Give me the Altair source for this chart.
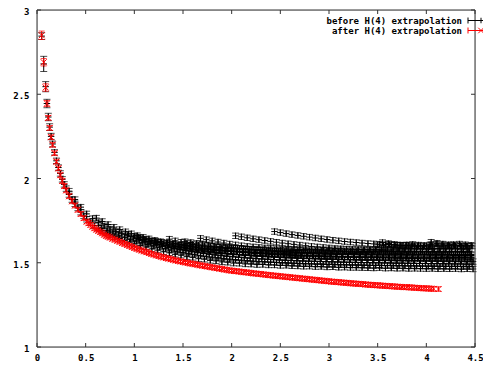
import altair as alt
import pandas as pd

# ---------------- data ----------------
x_ticks = [0, 0.5, 1, 1.5, 2, 2.5, 3, 3.5, 4, 4.5]
y_ticks = [1, 1.5, 2, 2.5, 3]

legend_labels = ["before H(4) extrapolation", "after H(4) extrapolation"]

# red: after H(4) extrapolation
red_x = [0.048, 0.069, 0.089, 0.102, 0.116, 0.13, 0.145, 0.16, 0.18, 0.2, 0.22, 0.24, 0.26, 0.28, 0.3,
         0.33, 0.36, 0.39, 0.42, 0.45, 0.48, 0.51, 0.55, 0.59, 0.63, 0.67, 0.71, 0.75, 0.8, 0.85, 0.9, 0.95,
         1.0, 1.05, 1.1, 1.15, 1.2, 1.25, 1.3, 1.35, 1.4, 1.45, 1.5, 1.55, 1.6, 1.65, 1.7, 1.75, 1.8, 1.85,
         1.9, 1.95, 2.0, 2.05, 2.1, 2.15, 2.2, 2.25, 2.3, 2.35, 2.4, 2.45, 2.5, 2.55, 2.6, 2.65, 2.7, 2.75,
         2.8, 2.85, 2.9, 2.95, 3.0, 3.05, 3.1, 3.15, 3.2, 3.25, 3.3, 3.35, 3.4, 3.45, 3.5, 3.55, 3.6, 3.65,
         3.7, 3.75, 3.8, 3.85, 3.9, 3.95, 4.0, 4.05]
red_y = [2.85, 2.69, 2.54, 2.445, 2.36, 2.30, 2.245, 2.20, 2.15, 2.10, 2.06, 2.02, 1.985, 1.955, 1.93,
         1.895, 1.865, 1.84, 1.815, 1.79, 1.765, 1.745, 1.725, 1.705, 1.69, 1.675, 1.66, 1.65, 1.637, 1.625, 1.612, 1.60,
         1.588, 1.578, 1.568, 1.558, 1.549, 1.540, 1.532, 1.525, 1.518, 1.511, 1.505, 1.499, 1.494, 1.488, 1.483, 1.478, 1.473, 1.468,
         1.463, 1.458, 1.453, 1.450, 1.446, 1.443, 1.439, 1.436, 1.433, 1.429, 1.426, 1.423, 1.420, 1.417, 1.414, 1.411, 1.408, 1.405,
         1.402, 1.399, 1.396, 1.393, 1.390, 1.387, 1.385, 1.382, 1.380, 1.377, 1.375, 1.373, 1.370, 1.368, 1.366, 1.364, 1.362, 1.360,
         1.358, 1.356, 1.355, 1.353, 1.351, 1.349, 1.348, 1.346]
red2_x = [0.53, 0.57, 0.61, 0.65, 0.69, 0.73, 0.775, 0.825, 0.875, 0.925,
          0.975, 1.025, 1.075, 1.125, 1.175, 1.225, 1.275, 1.325, 1.375, 1.425, 1.475, 1.525, 1.575, 1.625,
          1.675, 1.725, 1.775, 1.825, 1.875, 1.925, 1.975, 2.025, 2.075, 2.125, 2.175, 2.225, 2.275, 2.325,
          2.375, 2.425, 2.475, 2.525, 2.575, 2.625, 2.675, 2.725, 2.775, 2.825, 2.875, 2.925, 2.975, 3.025,
          3.075, 3.125, 3.175, 3.225, 3.275, 3.325, 3.375, 3.425, 3.475, 3.525, 3.575, 3.625, 3.675, 3.725,
          3.775, 3.825, 3.875, 3.925, 3.975, 4.025, 4.075, 4.125]
red2_y = [1.735, 1.715, 1.697, 1.682, 1.667, 1.655, 1.643, 1.631, 1.618, 1.606,
          1.594, 1.583, 1.573, 1.563, 1.553, 1.544, 1.536, 1.528, 1.521, 1.514, 1.508, 1.502, 1.496, 1.491,
          1.485, 1.480, 1.475, 1.470, 1.465, 1.460, 1.455, 1.451, 1.448, 1.444, 1.441, 1.437, 1.434, 1.431,
          1.427, 1.424, 1.421, 1.418, 1.415, 1.412, 1.409, 1.406, 1.403, 1.400, 1.397, 1.394, 1.391, 1.388,
          1.386, 1.383, 1.381, 1.378, 1.376, 1.374, 1.371, 1.369, 1.367, 1.365, 1.363, 1.361, 1.359, 1.357,
          1.355, 1.354, 1.352, 1.350, 1.348, 1.347, 1.345, 1.344]
red_err_first = [0.025, 0.022, 0.022, 0.018]
red_err = 0.014

# black: before H(4) extrapolation (several branches)
blk0_x = [0.048, 0.069, 0.089, 0.102, 0.116, 0.13, 0.145, 0.16, 0.18, 0.2, 0.22, 0.24, 0.26, 0.28, 0.3,
          0.33, 0.36, 0.39, 0.42, 0.45, 0.48, 0.51, 0.55, 0.59, 0.63, 0.67, 0.71, 0.75, 0.8, 0.85, 0.9, 0.95, 1.0,
          1.06, 1.12, 1.18, 1.24, 1.3, 1.36, 1.42, 1.48, 1.54, 1.6, 1.66, 1.72, 1.78, 1.84, 1.9, 1.96, 2.02, 2.08,
          2.14, 2.2, 2.26, 2.32, 2.38, 2.44, 2.5, 2.56, 2.62, 2.68, 2.74, 2.8, 2.86, 2.92, 2.98, 3.04, 3.1, 3.16,
          3.22, 3.28, 3.34, 3.4, 3.46, 3.52, 3.58, 3.64, 3.7, 3.76, 3.82, 3.88, 3.94, 4.0, 4.06, 4.12, 4.18, 4.24,
          4.3, 4.36, 4.42, 4.48]
blk0_y = [2.845, 2.68, 2.545, 2.445, 2.365, 2.305, 2.25, 2.205, 2.155, 2.105, 2.065, 2.03, 1.995, 1.965, 1.94,
          1.905, 1.875, 1.85, 1.825, 1.80, 1.778, 1.758, 1.738, 1.72, 1.705, 1.69, 1.677, 1.667, 1.655, 1.644, 1.633, 1.622, 1.612,
          1.601, 1.594, 1.582, 1.575, 1.565, 1.559, 1.550, 1.545, 1.536, 1.532, 1.524, 1.521, 1.514, 1.511, 1.505, 1.503, 1.498, 1.497,
          1.493, 1.492, 1.489, 1.490, 1.487, 1.487, 1.484, 1.485, 1.482, 1.481, 1.479, 1.480, 1.477, 1.478, 1.475, 1.476, 1.473, 1.474,
          1.472, 1.472, 1.471, 1.470, 1.469, 1.471, 1.468, 1.469, 1.467, 1.468, 1.466, 1.467, 1.466, 1.465, 1.466, 1.464, 1.465, 1.464,
          1.465, 1.463, 1.464, 1.463]
blk0_err_first = [0.02, 0.045, 0.03, 0.025, 0.022, 0.02, 0.018, 0.017]

blk1_x = [0.33, 0.39, 0.45, 0.51, 0.57, 0.63, 0.69, 0.75, 0.81, 0.87, 0.93, 0.99, 1.05, 1.11, 1.17, 1.23, 1.29,
          1.35, 1.41, 1.47, 1.53, 1.59, 1.65, 1.71, 1.77, 1.83, 1.89, 1.95, 2.01, 2.07, 2.13, 2.19, 2.25, 2.31,
          2.37, 2.43, 2.49, 2.55, 2.61, 2.67, 2.73, 2.79, 2.85, 2.91, 2.97, 3.03, 3.09, 3.15, 3.21, 3.27, 3.33,
          3.39, 3.45, 3.51, 3.57, 3.63, 3.69, 3.75, 3.81, 3.87, 3.93, 3.99, 4.05, 4.11, 4.17, 4.23, 4.29, 4.35,
          4.41, 4.47]
blk1_y = [1.925, 1.875, 1.830, 1.790, 1.762, 1.738, 1.718, 1.700, 1.686, 1.673,
          1.661, 1.648, 1.637, 1.627, 1.618, 1.609, 1.600, 1.592, 1.585, 1.578,
          1.572, 1.566, 1.560, 1.555, 1.550, 1.546, 1.542, 1.538, 1.535, 1.532,
          1.529, 1.527, 1.524, 1.522, 1.520, 1.518, 1.516, 1.514, 1.513, 1.511,
          1.510, 1.509, 1.508, 1.507, 1.506, 1.505, 1.504, 1.503, 1.503, 1.502,
          1.501, 1.501, 1.500, 1.500, 1.499, 1.499, 1.498, 1.498, 1.497, 1.497,
          1.496, 1.496, 1.495, 1.495, 1.494, 1.494, 1.493, 1.493, 1.492, 1.492]

blk2_x = [0.61, 0.67, 0.73, 0.79, 0.85, 0.91, 0.97, 1.03, 1.09, 1.15, 1.21, 1.27, 1.33, 1.39, 1.45, 1.51,
          1.57, 1.63, 1.69, 1.75, 1.81, 1.87, 1.93, 1.99, 2.05, 2.11, 2.17, 2.23, 2.29, 2.35, 2.41, 2.47, 2.53,
          2.59, 2.65, 2.71, 2.77, 2.83, 2.89, 2.95, 3.01, 3.07, 3.13, 3.19, 3.25, 3.31, 3.37, 3.43, 3.49, 3.55,
          3.61, 3.67, 3.73, 3.79, 3.85, 3.91, 3.97, 4.03, 4.09, 4.15, 4.21, 4.27, 4.33, 4.39, 4.45]
blk2_y = [1.765, 1.745, 1.727, 1.711, 1.697, 1.684, 1.672, 1.661, 1.651, 1.642, 1.633, 1.625, 1.618, 1.611,
          1.605, 1.599, 1.594, 1.589, 1.584, 1.580, 1.576, 1.572, 1.569, 1.566, 1.563, 1.560, 1.558, 1.555,
          1.553, 1.551, 1.549, 1.547, 1.546, 1.544, 1.543, 1.541, 1.540, 1.539, 1.538, 1.537, 1.536, 1.535,
          1.534, 1.533, 1.532, 1.531, 1.530, 1.530, 1.529, 1.528, 1.528, 1.527, 1.526, 1.526, 1.525, 1.525,
          1.524, 1.524, 1.523, 1.523, 1.522, 1.522, 1.521, 1.521, 1.520]

blk3_x = [1.04, 1.10, 1.16, 1.22, 1.28, 1.34, 1.40, 1.46, 1.52, 1.58, 1.64, 1.70, 1.76, 1.82, 1.88, 1.94,
          2.00, 2.06, 2.12, 2.18, 2.24, 2.30, 2.36, 2.42, 2.48, 2.54, 2.60, 2.66, 2.72, 2.78, 2.84, 2.90, 2.96,
          3.02, 3.08, 3.14, 3.20, 3.26, 3.32, 3.38, 3.44, 3.50, 3.56, 3.62, 3.68, 3.74, 3.80, 3.86, 3.92, 3.98,
          4.04, 4.10, 4.16, 4.22, 4.28, 4.34, 4.40, 4.46]
blk3_y = [1.652, 1.640, 1.630, 1.621, 1.613, 1.606, 1.600, 1.595, 1.590, 1.586, 1.582, 1.579, 1.576, 1.573,
          1.571, 1.569, 1.567, 1.565, 1.563, 1.562, 1.560, 1.559, 1.558, 1.557, 1.556, 1.555, 1.554, 1.553,
          1.553, 1.552, 1.551, 1.551, 1.550, 1.550, 1.549, 1.549, 1.548, 1.548, 1.548, 1.547, 1.547, 1.547,
          1.546, 1.546, 1.546, 1.546, 1.545, 1.545, 1.545, 1.545, 1.544, 1.544, 1.544, 1.544, 1.543, 1.543,
          1.543, 1.543]

blk4_x = [1.36, 1.42, 1.48, 1.54, 1.60, 1.66, 1.72, 1.78, 1.84, 1.90, 1.96, 2.02, 2.08, 2.14, 2.20, 2.26,
          2.32, 2.38, 2.44, 2.50, 2.56, 2.62, 2.68, 2.74, 2.80, 2.86, 2.92, 2.98, 3.04, 3.10, 3.16, 3.22, 3.28,
          3.34, 3.40, 3.46, 3.52, 3.58, 3.64, 3.70, 3.76, 3.82, 3.88, 3.94, 4.00, 4.06, 4.12, 4.18, 4.24, 4.30,
          4.36, 4.42]
blk4_y = [1.640, 1.630, 1.622, 1.615, 1.609, 1.604, 1.600, 1.596, 1.593, 1.590, 1.588, 1.586, 1.584, 1.582,
          1.581, 1.579, 1.578, 1.577, 1.576, 1.575, 1.574, 1.573, 1.573, 1.572, 1.571, 1.571, 1.570, 1.570,
          1.569, 1.569, 1.568, 1.568, 1.568, 1.567, 1.567, 1.567, 1.566, 1.566, 1.566, 1.566, 1.565, 1.565,
          1.565, 1.565, 1.565, 1.564, 1.564, 1.564, 1.564, 1.564, 1.563, 1.563]

blk5_x = [1.68, 1.74, 1.80, 1.86, 1.92, 1.98, 2.04, 2.10, 2.16, 2.22, 2.28, 2.34, 2.40, 2.46, 2.52, 2.58,
          2.64, 2.70, 2.76, 2.82, 2.88, 2.94, 3.00, 3.06, 3.12, 3.18, 3.24, 3.30, 3.36, 3.42, 3.48, 3.54, 3.60,
          3.66, 3.72, 3.78, 3.84, 3.90, 3.96, 4.02, 4.08, 4.14, 4.20, 4.26, 4.32, 4.38, 4.44]
blk5_y = [1.645, 1.637, 1.630, 1.623, 1.617, 1.611, 1.606, 1.601, 1.597, 1.594, 1.591, 1.588, 1.586, 1.584,
          1.582, 1.581, 1.580, 1.579, 1.578, 1.578, 1.577, 1.577, 1.577, 1.577, 1.577, 1.577, 1.577, 1.578,
          1.578, 1.578, 1.579, 1.579, 1.580, 1.580, 1.581, 1.581, 1.582, 1.582, 1.583, 1.583, 1.584, 1.584,
          1.585, 1.585, 1.586, 1.586, 1.587]

blk6_x = [2.04, 2.10, 2.16, 2.22, 2.28, 2.34, 2.40, 2.46, 2.52, 2.58, 2.64, 2.70, 2.76, 2.82, 2.88, 2.94,
          3.00, 3.06, 3.12, 3.18, 3.24, 3.30, 3.36, 3.42, 3.48, 3.54, 3.60, 3.66, 3.72, 3.78, 3.84, 3.90, 3.96,
          4.02, 4.08, 4.14, 4.20, 4.26, 4.32, 4.38, 4.44]
blk6_y = [1.660, 1.654, 1.648, 1.642, 1.637, 1.632, 1.627, 1.622, 1.617, 1.613, 1.609, 1.605, 1.601, 1.597,
          1.594, 1.591, 1.588, 1.585, 1.583, 1.581, 1.579, 1.577, 1.576, 1.575, 1.574, 1.573, 1.572, 1.571,
          1.571, 1.570, 1.570, 1.569, 1.569, 1.568, 1.568, 1.568, 1.567, 1.567, 1.567, 1.566, 1.566]

blk7_x = [2.44, 2.50, 2.56, 2.62, 2.68, 2.74, 2.80, 2.86, 2.92, 2.98, 3.04, 3.10, 3.16, 3.22, 3.28, 3.34,
          3.40, 3.46, 3.52, 3.58, 3.64, 3.70, 3.76, 3.82, 3.88, 3.94, 4.00, 4.06, 4.12, 4.18, 4.24, 4.30, 4.36,
          4.42]
blk7_y = [1.685, 1.679, 1.673, 1.667, 1.662, 1.657, 1.652, 1.647, 1.642, 1.638, 1.634, 1.630, 1.626, 1.623,
          1.620, 1.617, 1.614, 1.612, 1.610, 1.608, 1.606, 1.605, 1.604, 1.603, 1.602, 1.601, 1.601, 1.600,
          1.600, 1.599, 1.599, 1.599, 1.598, 1.598]

blk8_x = [3.55, 3.61, 3.67, 3.73, 3.79, 3.85, 3.91, 3.97, 4.03, 4.05, 4.11, 4.17, 4.23, 4.29, 4.35, 4.41, 4.47]
blk8_y = [1.620, 1.614, 1.609, 1.605, 1.602, 1.599, 1.597, 1.595, 1.594, 1.622, 1.616, 1.611, 1.607, 1.604,
          1.602, 1.600, 1.599]

blk9_x = [0.66, 0.72, 0.78, 0.84, 0.90, 0.96, 1.02, 1.08, 1.14, 1.20, 1.26, 1.32, 1.38, 1.44, 1.50, 1.56,
          1.62, 1.68, 1.74, 1.80, 1.86, 1.92, 1.98, 2.04, 2.10, 2.16, 2.22, 2.28, 2.34, 2.40, 2.46, 2.52, 2.58,
          2.64, 2.70, 2.76, 2.82, 2.88, 2.94, 3.00, 3.06, 3.12, 3.18, 3.24, 3.30, 3.36, 3.42, 3.48, 3.54, 3.60,
          3.66, 3.72, 3.78, 3.84, 3.90, 3.96, 4.02, 4.08, 4.14, 4.20, 4.26, 4.32, 4.38, 4.44]
blk9_y = [1.706, 1.690, 1.677, 1.664, 1.651, 1.640, 1.628, 1.618, 1.609, 1.600,
          1.592, 1.584, 1.576, 1.569, 1.562, 1.556, 1.550, 1.544, 1.539, 1.534,
          1.530, 1.526, 1.522, 1.519, 1.516, 1.513, 1.510, 1.508, 1.506, 1.504,
          1.502, 1.500, 1.498, 1.497, 1.495, 1.494, 1.493, 1.492, 1.491, 1.490,
          1.489, 1.488, 1.487, 1.486, 1.486, 1.485, 1.484, 1.484, 1.483, 1.483,
          1.482, 1.482, 1.481, 1.481, 1.480, 1.480, 1.479, 1.479, 1.479, 1.478,
          1.478, 1.478, 1.477, 1.477]

blk10_x = [0.94, 1.00, 1.06, 1.12, 1.18, 1.24, 1.30, 1.36, 1.42, 1.48, 1.54, 1.60, 1.66, 1.72, 1.78, 1.84,
           1.90, 1.96, 2.02, 2.08, 2.14, 2.20, 2.26, 2.32, 2.38, 2.44, 2.50, 2.56, 2.62, 2.68, 2.74, 2.80, 2.86,
           2.92, 2.98, 3.04, 3.10, 3.16, 3.22, 3.28, 3.34, 3.40, 3.46, 3.52, 3.58, 3.64, 3.70, 3.76, 3.82, 3.88,
           3.94, 4.00, 4.06, 4.12, 4.18, 4.24, 4.30, 4.36, 4.42, 4.48]
blk10_y = [1.670, 1.658, 1.647, 1.637, 1.628, 1.620, 1.612, 1.605, 1.598, 1.592,
           1.586, 1.580, 1.575, 1.570, 1.566, 1.562, 1.558, 1.555, 1.552, 1.549,
           1.546, 1.544, 1.541, 1.539, 1.537, 1.535, 1.533, 1.532, 1.530, 1.529,
           1.527, 1.526, 1.525, 1.524, 1.523, 1.522, 1.521, 1.520, 1.519, 1.518,
           1.517, 1.517, 1.516, 1.515, 1.515, 1.514, 1.513, 1.513, 1.512, 1.512,
           1.511, 1.511, 1.510, 1.510, 1.509, 1.509, 1.508, 1.508, 1.507, 1.507]

blk11_x = [1.22, 1.28, 1.34, 1.40, 1.46, 1.52, 1.58, 1.64, 1.70, 1.76, 1.82, 1.88, 1.94, 2.00, 2.06, 2.12,
           2.18, 2.24, 2.30, 2.36, 2.42, 2.48, 2.54, 2.60, 2.66, 2.72, 2.78, 2.84, 2.90, 2.96, 3.02, 3.08, 3.14,
           3.20, 3.26, 3.32, 3.38, 3.44, 3.50, 3.56, 3.62, 3.68, 3.74, 3.80, 3.86, 3.92, 3.98, 4.04, 4.10, 4.16,
           4.22, 4.28, 4.34, 4.40, 4.46]
blk11_y = [1.628, 1.622, 1.617, 1.612, 1.607, 1.602, 1.597, 1.592, 1.587, 1.583,
           1.579, 1.575, 1.572, 1.569, 1.566, 1.563, 1.561, 1.558, 1.556, 1.554,
           1.552, 1.550, 1.548, 1.547, 1.545, 1.544, 1.542, 1.541, 1.540, 1.539,
           1.538, 1.537, 1.536, 1.536, 1.535, 1.535, 1.534, 1.534, 1.534, 1.533,
           1.533, 1.533, 1.533, 1.532, 1.532, 1.532, 1.532, 1.532, 1.531, 1.531,
           1.531, 1.531, 1.531, 1.531, 1.530]

blk12_x = [1.52, 1.58, 1.64, 1.70, 1.76, 1.82, 1.88, 1.94, 2.00, 2.06, 2.12, 2.18, 2.24, 2.30, 2.36, 2.42,
           2.48, 2.54, 2.60, 2.66, 2.72, 2.78, 2.84, 2.90, 2.96, 3.02, 3.08, 3.14, 3.20, 3.26, 3.32, 3.38, 3.44,
           3.50, 3.56, 3.62, 3.68, 3.74, 3.80, 3.86, 3.92, 3.98, 4.04, 4.10, 4.16, 4.22, 4.28, 4.34, 4.40, 4.46]
blk12_y = [1.625, 1.620, 1.615, 1.610, 1.605, 1.600, 1.596, 1.593, 1.590, 1.586,
           1.583, 1.580, 1.577, 1.575, 1.572, 1.570, 1.568, 1.566, 1.565, 1.563,
           1.562, 1.561, 1.560, 1.559, 1.558, 1.557, 1.556, 1.556, 1.555, 1.555,
           1.554, 1.554, 1.553, 1.553, 1.553, 1.552, 1.552, 1.552, 1.551, 1.551,
           1.551, 1.551, 1.550, 1.550, 1.550, 1.550, 1.549, 1.549, 1.549, 1.549]

blk13_x = [3.50, 3.56, 3.62, 3.68, 3.74, 3.80, 3.86, 3.92, 3.98, 4.04, 4.10, 4.16, 4.22, 4.28, 4.34, 4.40, 4.46]
blk13_y = [1.606, 1.603, 1.608, 1.604, 1.601, 1.606, 1.609, 1.605, 1.602, 1.607, 1.610, 1.606, 1.603, 1.608,
           1.611, 1.607, 1.604]

blk_err = 0.016


def frame(xs, ys, first_err, err):
    es = [first_err[i] if i < len(first_err) else err for i in range(len(xs))]
    return pd.DataFrame({
        "x": xs,
        "y": ys,
        "lo": [v - e for v, e in zip(ys, es)],
        "hi": [v + e for v, e in zip(ys, es)],
    })


black = pd.concat([
    frame(blk0_x, blk0_y, blk0_err_first, blk_err),
    frame(blk1_x, blk1_y, [], blk_err),
    frame(blk9_x, blk9_y, [], blk_err),
    frame(blk2_x, blk2_y, [], blk_err),
    frame(blk10_x, blk10_y, [], blk_err),
    frame(blk3_x, blk3_y, [], blk_err),
    frame(blk11_x, blk11_y, [], blk_err),
    frame(blk4_x, blk4_y, [], blk_err),
    frame(blk12_x, blk12_y, [], blk_err),
    frame(blk5_x, blk5_y, [], blk_err),
    frame(blk6_x, blk6_y, [], blk_err),
    frame(blk7_x, blk7_y, [], blk_err),
    frame(blk8_x, blk8_y, [], blk_err),
    frame(blk13_x, blk13_y, [], blk_err),
], ignore_index=True)
red = pd.concat([
    frame(red_x, red_y, red_err_first, red_err),
    frame(red2_x, red2_y, [], red_err),
], ignore_index=True)

# ---------------- chart ----------------
W, H = 438, 337
FONT = "DejaVu Sans Mono"
FRAME = "#333333"
xscale = alt.Scale(domain=[0, 4.5], nice=False, zero=False)
yscale = alt.Scale(domain=[1, 3], nice=False, zero=False)
xaxis = alt.Axis(values=x_ticks, format="~g", title=None, domain=False, ticks=False, grid=False,
                 labelFont=FONT, labelFontWeight="bold", labelFontSize=9, labelColor="#000",
                 labelPadding=6, labelFlush=False)
yaxis = alt.Axis(values=y_ticks, format="~g", title=None, domain=False, ticks=False, grid=False,
                 labelFont=FONT, labelFontWeight="bold", labelFontSize=9, labelColor="#000",
                 labelPadding=8, labelFlush=False, labelOffset=1.5)


def X(f):
    return alt.X(f, type="quantitative", scale=xscale, axis=xaxis)


def Y(f):
    return alt.Y(f, type="quantitative", scale=yscale, axis=yaxis)


PLUS = "M-1,0L1,0M0,-1L0,1"
CROSS = "M-1,-1L1,1M-1,1L1,-1"


def series(df, color, shape, size, cap):
    base = alt.Chart(df)
    bars = base.mark_rule(color=color, strokeWidth=1).encode(x=X("x"), y=Y("lo"), y2="hi")
    cap_lo = base.mark_tick(color=color, orient="horizontal", size=cap, thickness=1).encode(x=X("x"), y=Y("lo"))
    cap_hi = base.mark_tick(color=color, orient="horizontal", size=cap, thickness=1).encode(x=X("x"), y=Y("hi"))
    pts = base.mark_point(shape=shape, size=size, filled=False, stroke=color, strokeWidth=1,
                          opacity=1).encode(x=X("x"), y=Y("y"))
    return [bars, cap_lo, cap_hi, pts]


xt = pd.DataFrame({"t": x_ticks})
yt = pd.DataFrame({"t": y_ticks})
ticks = [
    alt.Chart(xt).mark_rule(color=FRAME).encode(x=X("t"), y=alt.value(H), y2=alt.value(H - 4)),
    alt.Chart(xt).mark_rule(color=FRAME).encode(x=X("t"), y=alt.value(0), y2=alt.value(4)),
    alt.Chart(yt).mark_rule(color=FRAME).encode(y=Y("t"), x=alt.value(0), x2=alt.value(4)),
    alt.Chart(yt).mark_rule(color=FRAME).encode(y=Y("t"), x=alt.value(W), x2=alt.value(W - 4)),
]
border = alt.Chart(pd.DataFrame({"b": [0]})).mark_rect(filled=False, stroke=FRAME, strokeWidth=1).encode(
    x=alt.value(0), x2=alt.value(W), y=alt.value(0), y2=alt.value(H))

legend = []
for label, color, shape, ry in [(legend_labels[0], "#000000", PLUS, 10.5),
                                (legend_labels[1], "#ff0000", CROSS, 20.5)]:
    d = pd.DataFrame({"label": [label]})
    legend += [
        alt.Chart(d).mark_text(align="right", baseline="middle", font=FONT, fontWeight="bold",
                               fontSize=9, color="#000").encode(x=alt.value(425), y=alt.value(ry), text="label:N"),
        alt.Chart(d).mark_rule(color=color).encode(x=alt.value(431), x2=alt.value(456), y=alt.value(ry)),
        alt.Chart(d).mark_rule(color=color).encode(x=alt.value(431), y=alt.value(ry - 3), y2=alt.value(ry + 3)),
        alt.Chart(d).mark_rule(color=color).encode(x=alt.value(456), y=alt.value(ry - 3), y2=alt.value(ry + 3)),
        alt.Chart(d).mark_point(shape=shape, size=30, filled=False, stroke=color, strokeWidth=1,
                                opacity=1).encode(x=alt.value(444), y=alt.value(ry)),
    ]

layers = (series(black, "#000000", PLUS, 42, 7) + series(red, "#ff0000", CROSS, 36, 6)
          + ticks + [border] + legend)

chart = alt.layer(*layers).properties(
    width=W, height=H,
    autosize=alt.AutoSizeParams(type="none"),
    padding={"left": 29, "top": 2, "right": 8, "bottom": 14},
).configure_view(stroke=None).configure(background="white")

chart.save("out.html", embed_options={"renderer": "svg", "actions": False})
